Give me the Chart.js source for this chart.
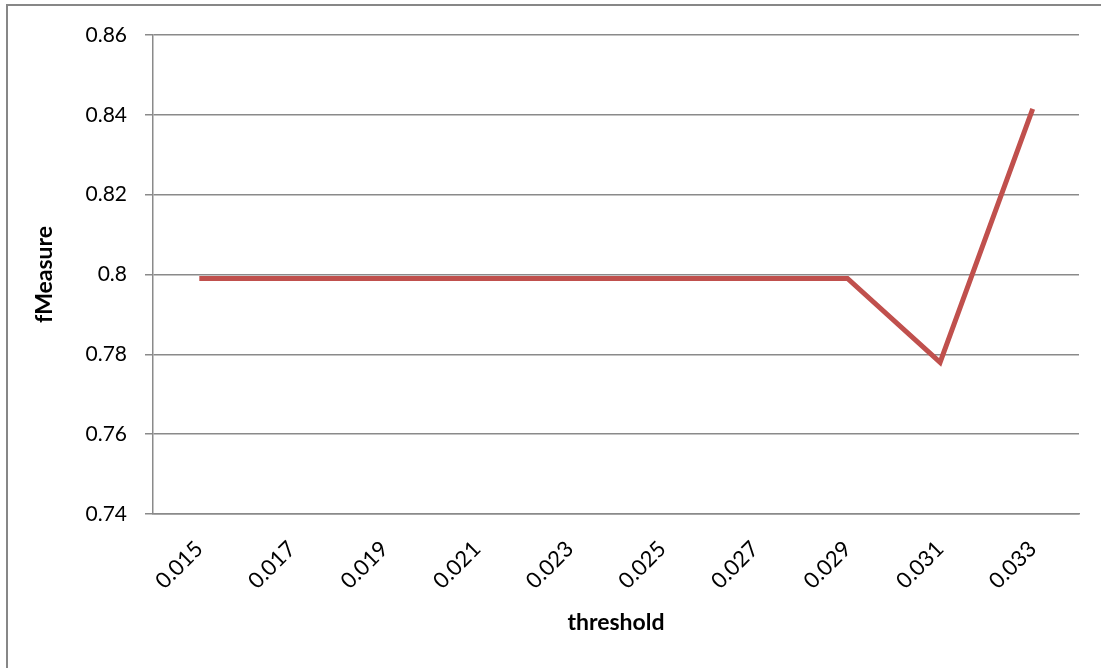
<!DOCTYPE html>
<html>
<head>
<meta charset="utf-8">
<script src="https://cdn.jsdelivr.net/npm/chart.js@4"></script>
<style>
    html, body { margin: 0; padding: 0; background: #fff; overflow: hidden; }
    #frame { position: absolute; left: 6px; top: 4px; width: 1200px; height: 800px; border: 2px solid #878787; }
    #chart { position: absolute; left: 0; top: 0; }
</style>
</head>
<body>
<div id="frame"></div>
<canvas id="chart" width="1101" height="668"></canvas>
<script>
// chart data
const thresholds = ["0.015", "0.017", "0.019", "0.021", "0.023", "0.025", "0.027", "0.029", "0.031", "0.033"];
const fMeasure = [0.799, 0.799, 0.799, 0.799, 0.799, 0.799, 0.799, 0.799, 0.778, 0.8415];
const yTicks = [0.74, 0.76, 0.78, 0.8, 0.82, 0.84, 0.86];

const gridGray = "#8a8a8a";
const fontName = "Lato, 'Open Sans', sans-serif";

const ctx = document.getElementById("chart").getContext("2d");

new Chart(ctx, {
    type: "line",
    data: {
        labels: thresholds,
        datasets: [{
            label: "fMeasure",
            data: fMeasure,
            borderColor: "#C0504D",
            borderWidth: 5,
            pointRadius: 0,
            tension: 0,
            fill: false
        }]
    },
    options: {
        responsive: false,
        animation: false,
        layout: { padding: { left: 8, top: 35, right: 22, bottom: 0 } },
        plugins: {
            legend: { display: false },
            tooltip: { enabled: false }
        },
        scales: {
            x: {
                offset: true,
                grid: { display: false, drawTicks: false },
                border: { display: true, color: gridGray, width: 1.5 },
                ticks: {
                    minRotation: 45,
                    maxRotation: 45,
                    padding: 22,
                    color: "#000",
                    font: { family: fontName, size: 22 }
                },
                title: {
                    display: true,
                    text: "threshold",
                    color: "#000",
                    font: { family: fontName, size: 23, weight: "bold" },
                    padding: { top: 0, bottom: 32 }
                },
                afterFit: scale => { scale.height = 154; }
            },
            y: {
                min: 0.74,
                max: 0.86,
                afterBuildTicks: scale => { scale.ticks = yTicks.map(v => ({ value: v })); },
                grid: { color: gridGray, lineWidth: 1.5, tickLength: 8 },
                border: { display: true, color: gridGray, width: 1.5 },
                ticks: {
                    padding: 18,
                    color: "#000",
                    font: { family: fontName, size: 21 },
                    callback: v => String(Math.round(v * 100) / 100)
                },
                title: {
                    display: true,
                    text: "fMeasure",
                    color: "#000",
                    font: { family: fontName, size: 23, weight: "bold" },
                    padding: { top: 23, bottom: 0 }
                },
                afterFit: scale => { scale.width = 145; }
            }
        }
    }
});
</script>
</body>
</html>
